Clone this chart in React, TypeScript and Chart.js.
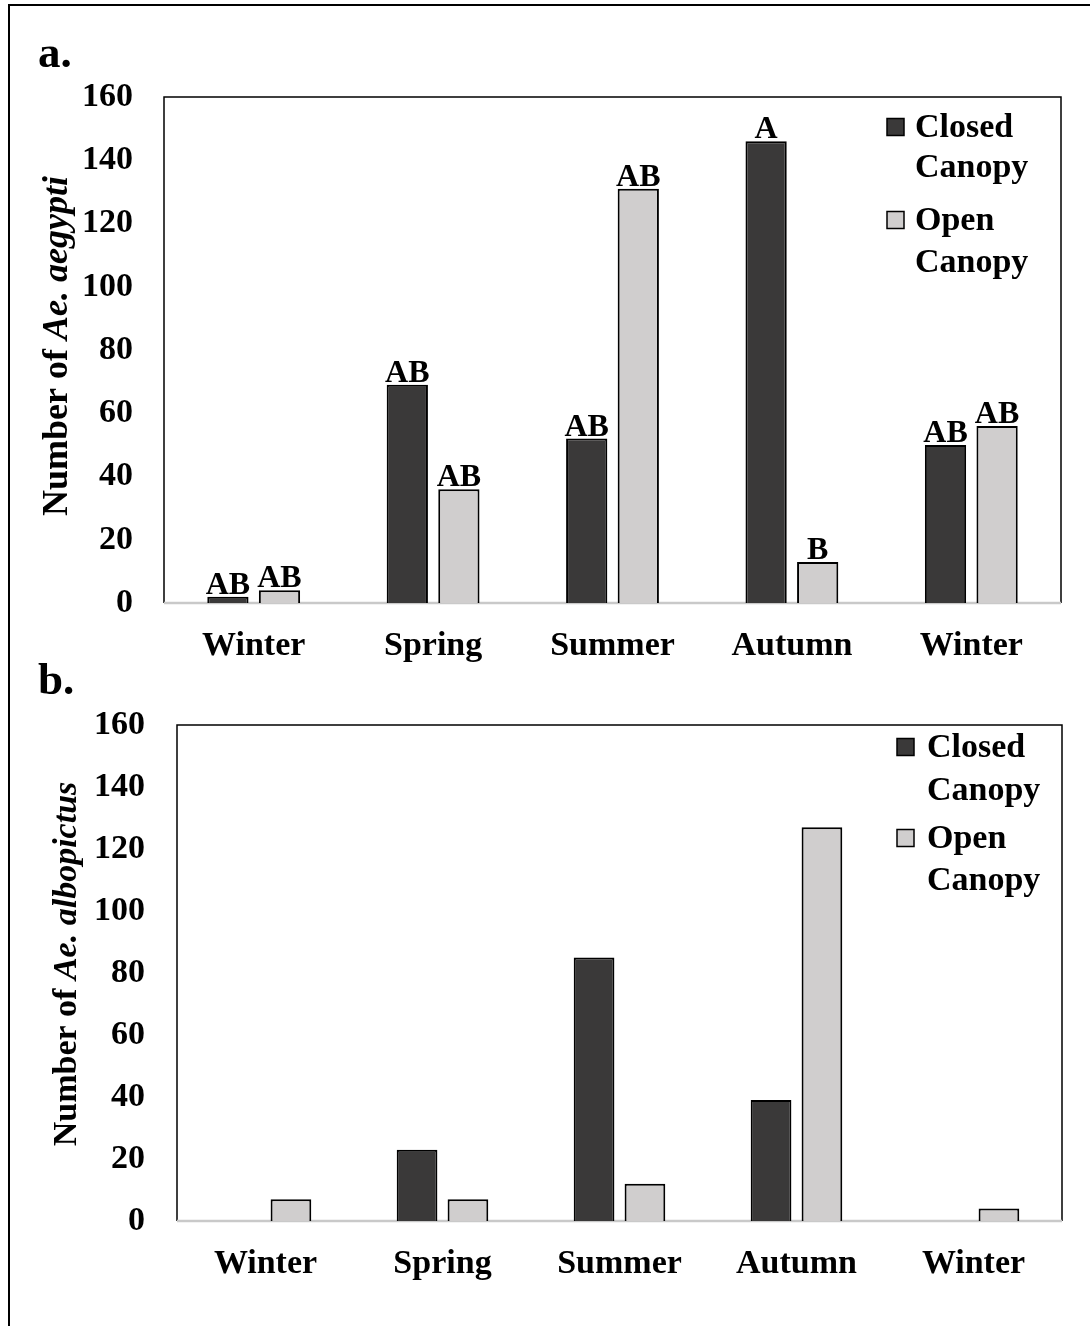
import React, { useEffect, useRef } from "react";
import { Chart, registerables } from "chart.js";

Chart.register(...registerables);

// ---------- data ----------
const seasons = ["Winter", "Spring", "Summer", "Autumn", "Winter"];
const seriesNames = ["Closed Canopy", "Open Canopy"];
const aegyptiClosed = [2, 69, 52, 146, 50];
const aegyptiOpen = [4, 36, 131, 13, 56];
const aegyptiClosedLetters = ["AB", "AB", "AB", "A", "AB"];
const aegyptiOpenLetters = ["AB", "AB", "AB", "B", "AB"];
const albopictusClosed = [0, 23, 85, 39, 0];
const albopictusOpen = [7, 7, 12, 127, 4];
const yMin = 0;
const yMax = 160;
const yStep = 20;

const FF = "'Liberation Serif', 'Times New Roman', serif";
const CLOSED_COLOR = "#3a3939";
const OPEN_COLOR = "#d0cece";

type PanelOpts = {
  closed: number[];
  open: number[];
  closedLetters?: string[];
  openLetters?: string[];
  species: string;
  canvasH: number;
  padTop: number;
  padRight: number;
  yWidth: number;
  xHeight: number;
  yTickPad: number;
  titleX: number;
  titleY: number;
  titleSize: number;
  legendSqX: number;
  legendTextX: number;
  legendLineY: number[][];
};

const framePlugin = {
  id: "frame",
  beforeDatasetsDraw(chart: any) {
    const { ctx, chartArea: a } = chart;
    ctx.save();
    ctx.strokeStyle = "#000";
    ctx.lineWidth = 1.5;
    ctx.beginPath();
    ctx.moveTo(a.left, a.bottom);
    ctx.lineTo(a.left, a.top);
    ctx.lineTo(a.right, a.top);
    ctx.lineTo(a.right, a.bottom);
    ctx.stroke();
    ctx.strokeStyle = "#c9c9c9";
    ctx.lineWidth = 2.5;
    ctx.beginPath();
    ctx.moveTo(a.left, a.bottom);
    ctx.lineTo(a.right, a.bottom);
    ctx.stroke();
    ctx.restore();
  },
};

function makePlugins(o: PanelOpts) {
  const letters = {
    id: "letters",
    afterDatasetsDraw(chart: any) {
      const sets = [o.closedLetters, o.openLetters];
      const { ctx } = chart;
      ctx.save();
      ctx.font = `bold 32px ${FF}`;
      ctx.fillStyle = "#000";
      ctx.textAlign = "center";
      ctx.textBaseline = "alphabetic";
      sets.forEach((labels, di) => {
        if (!labels) return;
        const meta = chart.getDatasetMeta(di);
        meta.data.forEach((el: any, i: number) => {
          ctx.fillText(labels[i], el.x, el.y - 3);
        });
      });
      ctx.restore();
    },
  };
  const legend = {
    id: "customLegend",
    afterDraw(chart: any) {
      const { ctx } = chart;
      ctx.save();
      ctx.font = `bold 34px ${FF}`;
      ctx.textAlign = "left";
      ctx.textBaseline = "middle";
      const colors = [CLOSED_COLOR, OPEN_COLOR];
      seriesNames.forEach((name, si) => {
        const words = name.split(" ");
        const ys = o.legendLineY[si];
        ctx.fillStyle = colors[si];
        ctx.fillRect(o.legendSqX, ys[0] - 8.5, 17, 17);
        ctx.strokeStyle = "#000";
        ctx.lineWidth = 1.5;
        ctx.strokeRect(o.legendSqX, ys[0] - 8.5, 17, 17);
        ctx.fillStyle = "#000";
        words.forEach((w, wi) => ctx.fillText(w, o.legendTextX, ys[wi] + 1));
      });
      ctx.restore();
    },
  };
  const ytitle = {
    id: "ytitle",
    afterDraw(chart: any) {
      const { ctx } = chart;
      const p1 = "Number of ";
      const p2 = o.species;
      const f1 = `bold ${o.titleSize}px ${FF}`;
      const f2 = `italic bold ${o.titleSize}px ${FF}`;
      ctx.save();
      ctx.font = f1;
      const w1 = ctx.measureText(p1).width;
      ctx.font = f2;
      const w2 = ctx.measureText(p2).width;
      ctx.translate(o.titleX, o.titleY);
      ctx.rotate(-Math.PI / 2);
      ctx.fillStyle = "#000";
      ctx.textAlign = "left";
      ctx.textBaseline = "alphabetic";
      const start = -(w1 + w2) / 2;
      ctx.font = f1;
      ctx.fillText(p1, start, 0);
      ctx.font = f2;
      ctx.fillText(p2, start + w1, 0);
      ctx.restore();
    },
  };
  return [framePlugin, letters, legend, ytitle];
}

function makeConfig(o: PanelOpts): any {
  return {
    type: "bar",
    data: {
      labels: seasons,
      datasets: [
        {
          label: seriesNames[0],
          data: o.closed,
          backgroundColor: CLOSED_COLOR,
          borderColor: "#000",
          borderWidth: 2,
          barPercentage: 0.8,
          categoryPercentage: 0.575,
        },
        {
          label: seriesNames[1],
          data: o.open,
          backgroundColor: OPEN_COLOR,
          borderColor: "#000",
          borderWidth: 2,
          barPercentage: 0.8,
          categoryPercentage: 0.575,
        },
      ],
    },
    options: {
      responsive: false,
      maintainAspectRatio: false,
      animation: false,
      layout: { padding: { top: o.padTop, right: o.padRight, left: 0, bottom: 0 } },
      plugins: {
        legend: { display: false },
        tooltip: { enabled: false },
        title: { display: false },
      },
      scales: {
        x: {
          grid: { display: false, drawTicks: false },
          border: { display: false },
          ticks: {
            color: "#000",
            padding: 23,
            maxRotation: 0,
            autoSkip: false,
            font: { family: FF, size: 34, weight: "bold" },
          },
          afterFit(scale: any) {
            scale.height = o.xHeight;
          },
        },
        y: {
          min: yMin,
          max: yMax,
          grid: { display: false, drawTicks: false },
          border: { display: false },
          ticks: {
            stepSize: yStep,
            color: "#000",
            padding: o.yTickPad,
            font: { family: FF, size: 34, weight: "bold" },
          },
          afterFit(scale: any) {
            scale.width = o.yWidth;
          },
        },
      },
    },
    plugins: makePlugins(o),
  };
}

const panelA: PanelOpts = {
  closed: aegyptiClosed,
  open: aegyptiOpen,
  closedLetters: aegyptiClosedLetters,
  openLetters: aegyptiOpenLetters,
  species: "Ae. aegypti",
  canvasH: 680,
  padTop: 97,
  padRight: 29,
  yWidth: 164,
  xHeight: 77,
  yTickPad: 31,
  titleX: 67,
  titleY: 346,
  titleSize: 36,
  legendSqX: 887,
  legendTextX: 915,
  legendLineY: [
    [127, 167],
    [220, 262],
  ],
};

const B_TOP = 660;
const panelB: PanelOpts = {
  closed: albopictusClosed,
  open: albopictusOpen,
  species: "Ae. albopictus",
  canvasH: 666,
  padTop: 725 - B_TOP,
  padRight: 28,
  yWidth: 177,
  xHeight: 666 - (1221 - B_TOP),
  yTickPad: 32,
  titleX: 76,
  titleY: 964 - B_TOP,
  titleSize: 34,
  legendSqX: 897,
  legendTextX: 927,
  legendLineY: [
    [747 - B_TOP, 790 - B_TOP],
    [838 - B_TOP, 880 - B_TOP],
  ],
};

function Panel({ opts, top }: { opts: PanelOpts; top: number }) {
  const ref = useRef<HTMLCanvasElement | null>(null);
  useEffect(() => {
    if (!ref.current) return;
    const chart = new Chart(ref.current, makeConfig(opts));
    return () => chart.destroy();
  }, [opts]);
  return (
    <canvas
      ref={ref}
      width={1090}
      height={opts.canvasH}
      style={{ position: "absolute", left: 0, top, width: 1090, height: opts.canvasH, display: "block" }}
    />
  );
}

const letterStyle: React.CSSProperties = {
  position: "absolute",
  left: 38,
  fontFamily: FF,
  fontWeight: "bold",
  fontSize: 45,
  lineHeight: "45px",
  color: "#000",
  whiteSpace: "nowrap",
};

export default function App() {
  return (
    <div
      style={{
        position: "absolute",
        left: 0,
        top: 0,
        width: 1090,
        height: 1326,
        overflow: "hidden",
        background: "#fff",
      }}
    >
      <div
        style={{
          position: "absolute",
          left: 8,
          top: 4,
          width: 1120,
          height: 1360,
          border: "2px solid #000",
        }}
      />
      <Panel opts={panelA} top={0} />
      <Panel opts={panelB} top={B_TOP} />
      <div style={{ ...letterStyle, top: 30 }}>a.</div>
      <div style={{ ...letterStyle, top: 657 }}>b.</div>
    </div>
  );
}
